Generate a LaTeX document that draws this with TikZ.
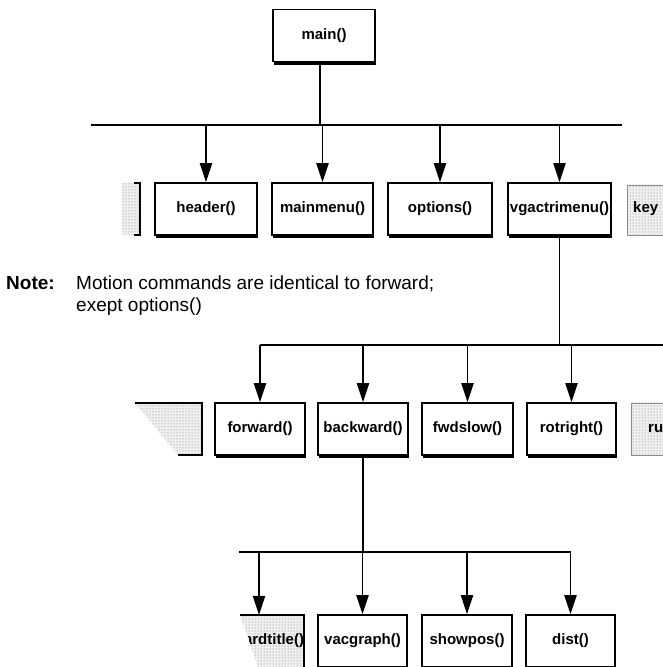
\documentclass[tikz,border=0pt]{standalone}
\usepackage{fontspec}
\setmainfont{Liberation Sans}
\usetikzlibrary{arrows.meta,shadows,patterns}
\begin{document}
\begin{tikzpicture}[x=1pt,y=1pt,
  fbox/.style={draw,line width=1.5pt,fill=white,minimum height=52pt,inner sep=0pt,
    font=\fontsize{15}{18}\selectfont\bfseries,
    drop shadow={shadow xshift=1.2pt,shadow yshift=-3.5pt,fill=black,opacity=1}},
  wire/.style={line width=1.8pt},
  arr/.style={line width=1.8pt,-{Triangle[length=19pt,width=12pt]}},
  faded/.style={fill=black!6,postaction={pattern=dots,pattern color=black!55}},
  edge/.style={line width=1.3pt},
  lbl/.style={font=\fontsize{15}{18}\selectfont\bfseries,inner sep=0pt},
  notefont/.style={font=\fontsize{19}{22}\selectfont,inner sep=0pt,align=left}
]
\useasboundingbox (0,0) rectangle (663,667);
\fill[white] (0,0) rectangle (663,667);

% top
\node[fbox,minimum width=102pt] (main) at (324,631.5) {main()};
\coordinate (bus1L) at (91,542);
\coordinate (bus1R) at (622,542);
\draw[wire] (bus1L) -- (bus1R);
\draw[wire] (main.south -| 320,0) -- (bus1L -| 320,0);

% row 1
\node[fbox,minimum width=102pt] (header) at (206,458) {header()};
\node[fbox,minimum width=101pt] (mainmenu) at (322.5,458) {mainmenu()};
\node[fbox,minimum width=104pt] (options) at (440,458) {options()};
\node[fbox,minimum width=103pt] (vgactrimenu) at (559.5,458) {vgactrimenu()};
\foreach \n in {header,mainmenu,options,vgactrimenu}
  \draw[arr] (\n.north |- bus1L) -- (\n.north);

% row 1 partial boxes
\path[faded] (122,432) rectangle (140,484);
\draw[edge] (134,484) -- (140,484) -- (140,432) -- (134,432);
\path[faded,draw=black!45,line width=0.6pt] (627,432) rectangle (672,482);
\node[lbl,anchor=west] (keys) at (633,458) {key};

% note
\node[notefont,anchor=base west] (notelbl) at (6,377) {\bfseries Note:};
\node[notefont,anchor=base west] (notetxt) at (76,377) {Motion commands are identical to forward;};
\node[notefont,anchor=base west] (notetxt2) at (76,355) {exept options()};

% row 2
\coordinate (bus2) at (0,322);
\node[fbox,minimum width=90pt] (forward) at (260,238) {forward()};
\node[fbox,minimum width=90pt] (backward) at (363,238) {backward()};
\node[fbox,minimum width=91pt] (fwdslow) at (467.5,238) {fwdslow()};
\node[fbox,minimum width=89pt] (rotright) at (571.5,238) {rotright()};
\draw[wire] (vgactrimenu.south) -- (vgactrimenu.south |- bus2);
\draw[wire] (forward.north |- bus2) -- (672,322);
\foreach \n in {forward,backward,fwdslow,rotright}
  \draw[arr] (\n.north |- bus2) -- (\n.north);

% row 2 partial boxes
\path[faded] (135,264) -- (202,264) -- (202,212) -- (178,212) -- cycle;
\draw[edge] (135,264) -- (202,264) -- (202,212) -- (178,212);
\path[faded,draw=black!45,line width=0.6pt] (631,212) rectangle (672,264);
\node[lbl,anchor=west] (runbox) at (648,238) {ru};

% row 3
\coordinate (bus3) at (0,115);
\node[fbox,minimum width=89pt] (vacgraph) at (362.5,26) {vacgraph()};
\node[fbox,minimum width=90pt] (showpos) at (467,26) {showpos()};
\node[fbox,minimum width=89pt] (dist) at (570.5,26) {dist()};
\draw[wire] (backward.south) -- (backward.south |- bus3);
\coordinate (bus3L) at (239,115);
\coordinate (ardtop) at (259,52);
\draw[wire] (bus3L) -- (dist.north |- bus3);
\draw[arr] (ardtop |- bus3) -- (ardtop);
\foreach \n in {vacgraph,showpos,dist}
  \draw[arr] (\n.north |- bus3) -- (\n.north);

% row 3 partial box
\path[faded] (240,52) -- (304,52) -- (304,0) -- (258,0) -- cycle;
\begin{scope}
  \clip (240,52) -- (304,52) -- (304,0) -- (258,0) -- cycle;
  \node[lbl] (ardtitle) at (274,26) {ardtitle()};
\end{scope}
\draw[edge] (240,52) -- (304,52) -- (304,0);
\end{tikzpicture}
\end{document}
